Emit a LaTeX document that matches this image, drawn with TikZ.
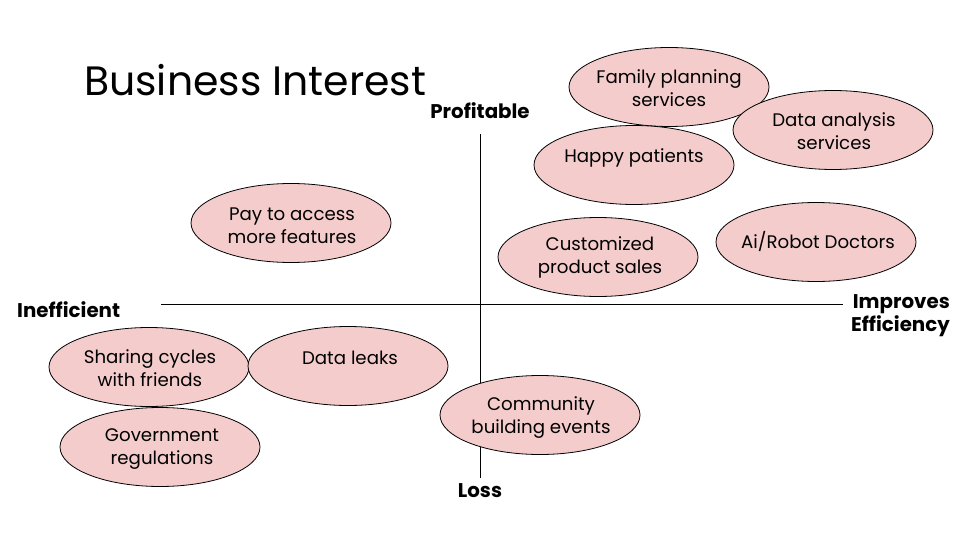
\documentclass[tikz,border=0pt]{standalone}
\usepackage{fontspec}
\setmainfont{Poppins}
\usetikzlibrary{shapes.geometric}
\definecolor{blobfill}{HTML}{F4CCCC}
\begin{document}
\begin{tikzpicture}[x=1pt,y=-1pt,
  blob/.style={ellipse, draw=black, line width=0.8pt, fill=blobfill,
    minimum width=200pt, minimum height=79pt, inner sep=0pt},
  blobtext/.style={align=center, font=\fontsize{18.2}{23}\selectfont, inner sep=0pt},
  axislabel/.style={font=\fontsize{19.8}{23}\selectfont\bfseries, inner sep=0pt},
  axis/.style={draw=black, line width=0.9pt}]
\useasboundingbox[fill=white] (0,0) rectangle (960,540);

% title
\node[anchor=west, inner sep=0pt, font=\fontsize{41}{48}\selectfont] (title) at (84,80) {Business Interest};

% axes
\coordinate (xl) at (161,304);
\coordinate (xr) at (843,304);
\coordinate (yt) at (480,134);
\coordinate (yb) at (480,478);
\draw[axis] (xl) -- (xr);
\draw[axis] (yt) -- (yb);

% axis labels
\node[axislabel] (profit) at (480,111) {Profitable};
\node[axislabel] (loss) at (480,491) {Loss};
\node[axislabel, anchor=west] (ineff) at (17,310) {Inefficient};
\node[axislabel, anchor=east, align=right] (eff) at (950,315.5) {Improves\\Efficiency};

% items
\node[blob] (family) at (669,87) {};
\node[blobtext] at (669,88) {Family planning\\services};

\node[blob] (analysis) at (833,130) {};
\node[blobtext] at (834,131) {Data analysis\\services};

\node[blob] (happy) at (634,165) {};
\node[blobtext] at (634,158) {Happy patients};

\node[blob] (pay) at (291,223) {};
\node[blobtext] at (292,226) {Pay to access\\more features};

\node[blob] (custom) at (598,257) {};
\node[blobtext] at (600,257.5) {Customized\\product sales};

\node[blob] (robot) at (816,242) {};
\node[blobtext] at (818,241.5) {Ai/Robot Doctors};

\node[blob] (sharing) at (149,367) {};
\node[blobtext] at (150,368.5) {Sharing cycles\\with friends};

\node[blob] (leaks) at (348,366) {};
\node[blobtext] at (350,357.5) {Data leaks};

\node[blob] (gov) at (160,447) {};
\node[blobtext] at (162,449.5) {Government\\regulations};

\node[blob] (community) at (540,415) {};
\node[blobtext] at (541,417.5) {Community\\building events};
\end{tikzpicture}
\end{document}
